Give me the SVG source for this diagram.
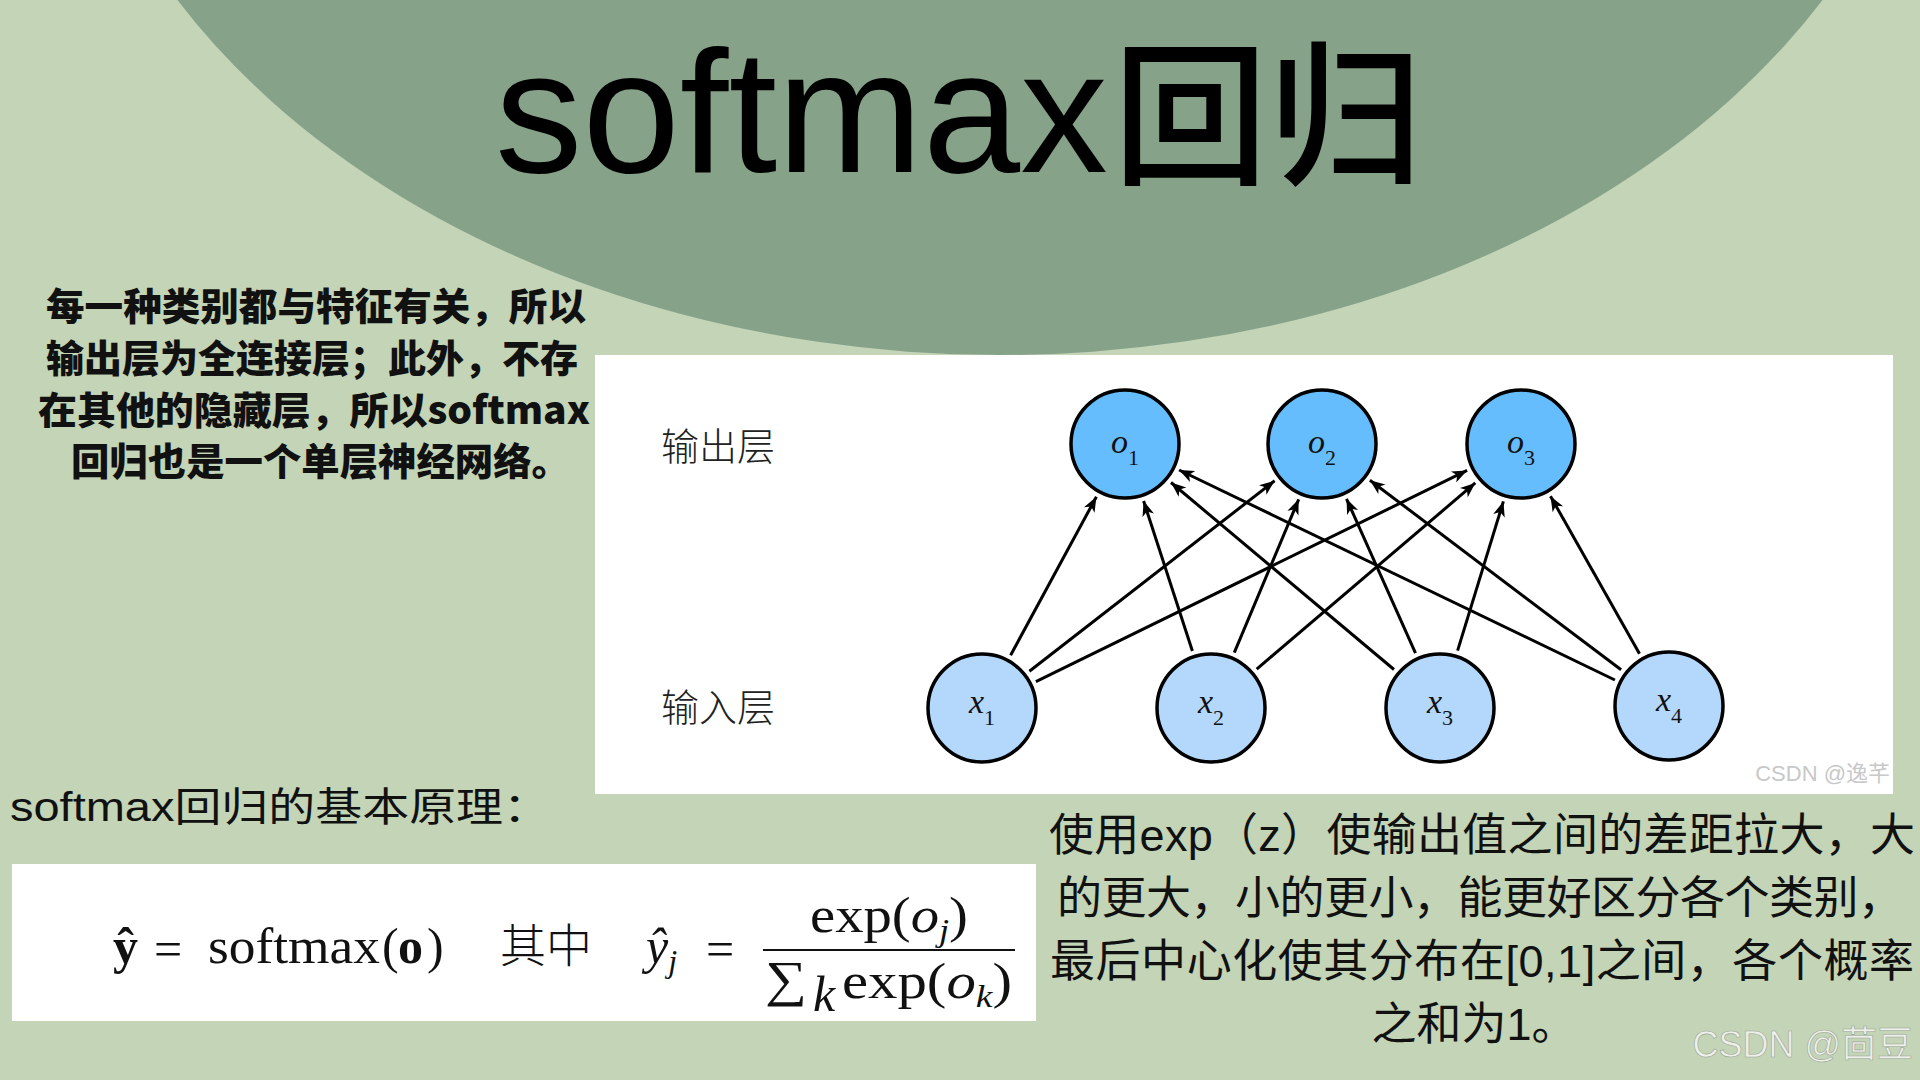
<svg xmlns="http://www.w3.org/2000/svg" width="1920" height="1080" viewBox="0 0 1920 1080">
  <defs>
    <marker id="arrow" viewBox="-16 -7 17 14" markerWidth="17" markerHeight="14" refX="0" refY="0" orient="auto" markerUnits="userSpaceOnUse">
      <path d="M0,0 L-15,-6 L-11,0 L-15,6 Z" fill="#000"/>
    </marker>
    <style>
      .cjk { font-family: "Liberation Sans", "Noto Sans CJK SC", sans-serif; }
      .bold { font-family: "Noto Sans CJK SC", sans-serif; font-weight: 900; font-size: 38px; fill: #111; }
      .para { font-family: "Liberation Sans", "Noto Sans CJK SC", sans-serif; font-size: 45px; fill: #111; text-anchor: middle; }
      .layer { font-family: "Noto Sans CJK SC", sans-serif; font-weight: 300; font-size: 38px; fill: #222; }
      .out { fill: #66bdfd; stroke: #000; stroke-width: 3.5; }
      .in { fill: #b3d8fb; stroke: #000; stroke-width: 3.5; }
      .lbl { font-family: "Liberation Serif", "DejaVu Serif", serif; font-style: italic; font-size: 34px; fill: #111; text-anchor: middle; }
      .sub { font-size: 22px; font-style: normal; }
      .edge { stroke: #000; stroke-width: 3; fill: none; marker-end: url(#arrow); }
      .math { font-family: "Liberation Serif", "DejaVu Serif", serif; font-size: 50px; fill: #111; }
    </style>
  </defs>

  <!-- background -->
  <rect x="0" y="0" width="1920" height="1080" fill="#c3d4b7"/>
  <ellipse cx="1000" cy="-342" rx="944" ry="697" fill="#86a38a"/>

  <!-- title -->
  <g id="title">
    <text x="495" y="172" font-family="Liberation Sans, sans-serif" font-size="175" fill="#000">softmax</text>
    <text x="1113" y="172" font-family="Noto Sans CJK SC, sans-serif" font-weight="500" font-size="155" fill="#000">回归</text>
  </g>

  <!-- left description -->
  <g id="left-text">
    <text class="bold" x="46" y="320" textLength="540" lengthAdjust="spacingAndGlyphs">每一种类别都与特征有关，所以</text>
    <text class="bold" x="46" y="372" textLength="532" lengthAdjust="spacingAndGlyphs">输出层为全连接层；此外，不存</text>
    <text class="bold" x="38" y="424" textLength="552" lengthAdjust="spacingAndGlyphs">在其他的隐藏层，所以softmax</text>
    <text class="bold" x="71" y="475" textLength="499" lengthAdjust="spacingAndGlyphs">回归也是一个单层神经网络。</text>
  </g>

  <!-- network panel -->
  <g id="network-panel">
    <rect x="595" y="355" width="1298" height="439" fill="#ffffff"/>
    <text class="layer" x="661" y="460">输出层</text>
    <text class="layer" x="661" y="721">输入层</text>
    <text x="1890" y="781" text-anchor="end" font-family="Liberation Sans, Noto Sans CJK SC, sans-serif" font-size="22" fill="#c8c8c8">CSDN @逸芊</text>
  </g>

  <!-- connectors -->
  <g id="connectors">
    <line class="edge" x1="1010.6" y1="655.2" x2="1096.4" y2="496.8"/>
    <line class="edge" x1="1029.4" y1="671.2" x2="1274.6" y2="480.8"/>
    <line class="edge" x1="1035.9" y1="681.6" x2="1467.1" y2="470.4"/>
    <line class="edge" x1="1192.4" y1="651.0" x2="1143.6" y2="501.0"/>
    <line class="edge" x1="1234.3" y1="652.7" x2="1298.7" y2="499.3"/>
    <line class="edge" x1="1256.7" y1="669.1" x2="1475.3" y2="482.9"/>
    <line class="edge" x1="1394.0" y1="669.5" x2="1171.0" y2="482.5"/>
    <line class="edge" x1="1415.5" y1="653.2" x2="1346.5" y2="498.8"/>
    <line class="edge" x1="1457.6" y1="650.6" x2="1503.4" y2="501.4"/>
    <line class="edge" x1="1614.9" y1="680.0" x2="1179.1" y2="470.0"/>
    <line class="edge" x1="1621.1" y1="669.8" x2="1369.9" y2="480.2"/>
    <line class="edge" x1="1639.5" y1="653.8" x2="1550.5" y2="496.2"/>
  </g>

  <!-- output nodes -->
  <g id="o1"><circle class="out" cx="1125" cy="444" r="54"/><text class="lbl" x="1125" y="453">o<tspan class="sub" dy="12">1</tspan></text></g>
  <g id="o2"><circle class="out" cx="1322" cy="444" r="54"/><text class="lbl" x="1322" y="453">o<tspan class="sub" dy="12">2</tspan></text></g>
  <g id="o3"><circle class="out" cx="1521" cy="444" r="54"/><text class="lbl" x="1521" y="453">o<tspan class="sub" dy="12">3</tspan></text></g>

  <!-- input nodes -->
  <g id="x1"><circle class="in" cx="982" cy="708" r="54"/><text class="lbl" x="982" y="713">x<tspan class="sub" dy="12">1</tspan></text></g>
  <g id="x2"><circle class="in" cx="1211" cy="708" r="54"/><text class="lbl" x="1211" y="713">x<tspan class="sub" dy="12">2</tspan></text></g>
  <g id="x3"><circle class="in" cx="1440" cy="708" r="54"/><text class="lbl" x="1440" y="713">x<tspan class="sub" dy="12">3</tspan></text></g>
  <g id="x4"><circle class="in" cx="1669" cy="706" r="54"/><text class="lbl" x="1669" y="711">x<tspan class="sub" dy="12">4</tspan></text></g>

  <!-- principle heading -->
  <g id="principle">
    <text x="10" y="821" class="cjk" font-size="40" fill="#111" textLength="540" lengthAdjust="spacingAndGlyphs">softmax回归的基本原理：</text>
  </g>

  <!-- formula -->
  <g id="formula">
    <rect x="12" y="864" width="1024" height="157" fill="#ffffff"/>
    <text class="math" x="113" y="963" font-weight="bold">ŷ</text>
    <text class="math" x="154" y="966" font-size="60">=</text>
    <text class="math" x="208" y="963" textLength="172" lengthAdjust="spacingAndGlyphs">softmax</text>
    <text class="math" x="382" y="963">(</text>
    <text class="math" x="398" y="963" font-weight="bold" font-size="58">o</text>
    <text class="math" x="427" y="963">)</text>
    <text x="500" y="962" font-family="Noto Sans CJK SC, sans-serif" font-weight="300" font-size="46" fill="#111">其中</text>
    <text class="math" x="646" y="963" font-style="italic">ŷ<tspan font-size="32" dy="9">j</tspan></text>
    <text class="math" x="706" y="966" font-size="60">=</text>
    <line x1="763" y1="950" x2="1015" y2="950" stroke="#111" stroke-width="2"/>
    <text class="math" x="810" y="932" textLength="158" lengthAdjust="spacingAndGlyphs">exp(<tspan font-style="italic">o</tspan><tspan font-style="italic" font-size="32" dy="9">j</tspan><tspan dy="-9">)</tspan></text>
    <text class="math" x="765" y="996" font-size="64" textLength="42" lengthAdjust="spacingAndGlyphs">∑</text>
    <text class="math" x="813" y="1011" font-style="italic" font-size="27">k</text>
    <text class="math" x="842" y="998" textLength="170" lengthAdjust="spacingAndGlyphs">exp(<tspan font-style="italic">o</tspan><tspan font-style="italic" font-size="32" dy="9">k</tspan><tspan dy="-9">)</tspan></text>
  </g>

  <!-- right explanation -->
  <g id="right-text">
    <text class="para" x="1482" y="851" textLength="866">使用exp（z）使输出值之间的差距拉大，大</text>
    <text class="para" x="1480" y="914" textLength="846">的更大，小的更小，能更好区分各个类别，</text>
    <text class="para" x="1482" y="977" textLength="864">最后中心化使其分布在[0,1]之间，各个概率</text>
    <text class="para" x="1474" y="1040">之和为1。</text>
  </g>

  <!-- watermark -->
  <text x="1913" y="1057" text-anchor="end" font-family="Liberation Sans, Noto Sans CJK SC, sans-serif" font-size="36" fill="#eef0ea" stroke="#9aa596" stroke-width="0.6">CSDN @茴豆</text>
</svg>
